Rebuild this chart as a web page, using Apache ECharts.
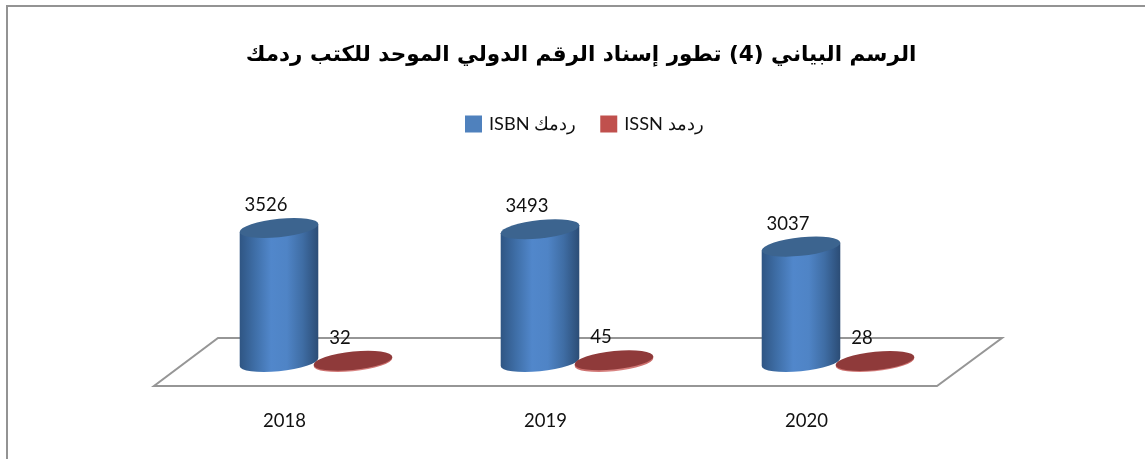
<!DOCTYPE html>
<html>
<head>
<meta charset="utf-8">
<style>
html,body{margin:0;padding:0;background:#fff;overflow:hidden}
#chart{width:1145px;height:459px}
</style>
<script src="https://cdn.jsdelivr.net/npm/echarts@6/dist/echarts.min.js"></script>
</head>
<body>
<div id="chart"></div>
<script>
const titleText = 'الرسم البياني (4) تطور إسناد الرقم الدولي الموحد للكتب ردمك';
const categories = ['2018', '2019', '2020'];
const isbnName = 'ISBN ردمك';
const issnName = 'ISSN ردمد';
const isbnValues = [3526, 3493, 3037];
const issnValues = [32, 45, 28];

const FONT = 'Lato, "Noto Sans", sans-serif';
const RX = 39.5, RY = 9.2, TILT = -6 * Math.PI / 180;
const c = Math.cos(TILT), s = Math.sin(TILT);
const EX = Math.sqrt(RX * RX * c * c + RY * RY * s * s);
const EY = (RX * RX - RY * RY) * s * c / EX;

function ellipsePath(x, y) {
  const deg = TILT * 180 / Math.PI;
  return `M${x - EX} ${y - EY}A${RX} ${RY} ${deg} 1 1 ${x + EX} ${y + EY}A${RX} ${RY} ${deg} 1 1 ${x - EX} ${y - EY}Z`;
}
function bodyPath(x, top, base) {
  const deg = TILT * 180 / Math.PI;
  return `M${x - EX} ${top - EY}L${x - EX} ${base - EY}A${RX} ${RY} ${deg} 0 0 ${x + EX} ${base + EY}L${x + EX} ${top + EY}Z`;
}
function grad(stops) {
  return { type: 'linear', x: 0, y: 0, x2: 1, y2: 0,
    colorStops: stops.map((col, i) => ({ offset: i / (stops.length - 1), color: col })) };
}
function cylinderSeries(name, values, color, bandShift, bodyStops, capColor) {
  return {
    name, type: 'custom', coordinateSystem: 'cartesian2d', clip: false, z: 3,
    itemStyle: { color },
    encode: { x: 0, y: 1 },
    data: values.map((v, i) => [categories[i], v]),
    renderItem(params, api) {
      const value = api.value(1);
      const band = api.size([1, 0])[0];
      const basePt = api.coord([api.value(0), 0]);
      const topPt = api.coord([api.value(0), value]);
      const x = basePt[0] + band * bandShift;
      return {
        type: 'group',
        children: [
          { type: 'path', shape: { pathData: bodyPath(x, topPt[1], basePt[1]) },
            style: { fill: grad(bodyStops) } },
          { type: 'path', shape: { pathData: ellipsePath(x, topPt[1]) },
            style: { fill: capColor } },
          { type: 'text', z2: 10,
            style: { text: String(value), x: x - 13, y: topPt[1] - 23, align: 'center',
              verticalAlign: 'middle', fill: '#111', font: '18.5px ' + FONT } }
        ]
      };
    }
  };
}

const floorSeries = {
  type: 'custom', coordinateSystem: 'cartesian2d', clip: false, silent: true, z: 1,
  legendHoverLink: false,
  data: [[categories[0], 0]],
  renderItem(params) {
    const g = params.coordSys;
    const bottom = g.y + g.height;
    const pts = [[g.x, bottom + 24], [g.x + g.width, bottom + 24],
                 [g.x + g.width + 65, bottom - 24], [g.x + 64, bottom - 24]];
    return { type: 'polygon', shape: { points: pts },
      style: { fill: 'none', stroke: '#969696', lineWidth: 2 } };
  }
};

const chart = echarts.init(document.getElementById('chart'), null, { renderer: 'canvas' });
chart.setOption({
  backgroundColor: '#fff',
  animation: false,
  title: {
    text: titleText, left: 576, top: 50, textAlign: 'center', textVerticalAlign: 'middle',
    textStyle: { fontFamily: '"DejaVu Sans", sans-serif', fontWeight: 'bold', fontSize: 21.5, color: '#000' }
  },
  legend: {
    data: [isbnName, issnName], left: 460, top: 110, itemWidth: 17, itemHeight: 17,
    itemGap: 24, icon: 'rect', selectedMode: false,
    textStyle: { fontFamily: FONT, fontSize: 18.2, color: '#111', padding: [0, 0, 5, 2] }
  },
  grid: { left: 154, width: 783, top: 210, height: 152 },
  xAxis: {
    type: 'category', data: categories,
    axisLine: { show: false }, axisTick: { show: false },
    axisLabel: { margin: 50, fontFamily: FONT, fontSize: 18.5, color: '#111' }
  },
  yAxis: { type: 'value', min: 0, max: 4000, show: false, splitLine: { show: false } },
  graphic: [
    { type: 'polyline', shape: { points: [[1145, 6], [7, 6], [7, 459]] },
      style: { stroke: '#939393', lineWidth: 2, fill: 'none' } }
  ],
  series: [
    floorSeries,
    cylinderSeries(isbnName, isbnValues, '#4F81BD', -5.5 / 261,
      ['#2F5583', '#3F6FA8', '#5187CB', '#4F84C6', '#3F6DA4', '#2B4C75'], '#3C648F'),
    cylinderSeries(issnName, issnValues, '#C0504D', 68.5 / 261,
      ['#C96A68', '#D98583', '#C96A68'], '#8F3A3A')
  ]
});
</script>
</body>
</html>
